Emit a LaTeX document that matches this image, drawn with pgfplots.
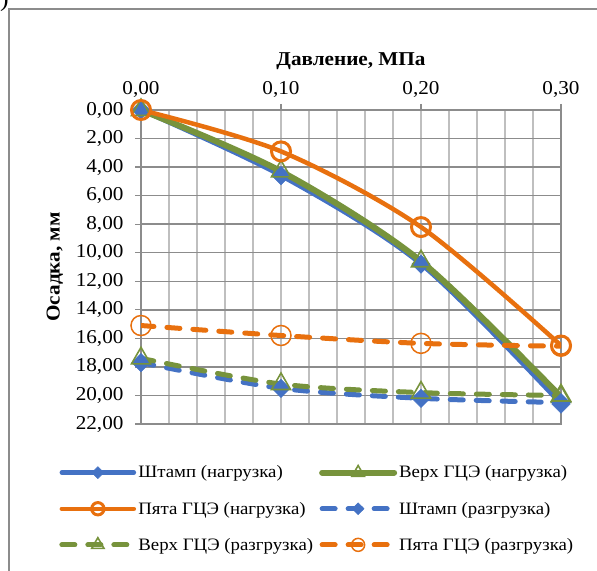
\documentclass[border=0pt]{standalone}
\usepackage{pgfplots}
\pgfplotsset{compat=1.18}
\usepackage{fontspec}
\setmainfont{Liberation Serif}[FakeStretch=1.08]
\definecolor{cblue}{HTML}{4472C4}
\definecolor{corange}{HTML}{E8700E}
\definecolor{cgreen}{HTML}{77933C}
\definecolor{gridd}{HTML}{8C8C8C}
\definecolor{gridl}{HTML}{BFBFBF}

\begin{document}
\begin{tikzpicture}[x=1bp,y=1bp]
\path[use as bounding box] (0,0) rectangle (597,571);
\draw[gridd, line width=1.3bp] (9,-5) -- (9,562) -- (605,562);
\node[anchor=south east, font=\fontsize{24}{28}\selectfont, inner sep=0] at (9,559) {б)};
\begin{axis}[
  at={(141bp,147bp)}, anchor=south west,
  scale only axis, width=420bp, height=314bp,
  xmin=0, xmax=0.3, ymin=0, ymax=22, y dir=reverse,
  xtick={0,0.1,0.2,0.3}, minor x tick num=4,
  ytick={0,2,...,22},
  xticklabel pos=upper, xtick pos=upper, ytick pos=left,
  tick align=outside, major tick length=6bp, minor tick length=0pt,
  tick style={gridd, line width=1.2bp},
  grid=both,
  major x grid style={gridl, line width=1.3bp},
  minor x grid style={gridl, line width=1.3bp},
  major y grid style={gridd, line width=1.4bp},
  axis line style={gridd, line width=1.3bp},
  x tick label style={yshift=3bp, /pgf/number format/.cd, fixed, fixed zerofill, precision=2, use comma},
  y tick label style={xshift=-8bp, /pgf/number format/.cd, fixed, fixed zerofill, precision=2, use comma},
  /pgf/number format/assume math mode=true,
  ticklabel style={font=\fontsize{19.7}{23}\selectfont},
  xlabel={\textbf{Давление, МПа}},
  ylabel={\textbf{Осадка, мм}},
  label style={font=\fontsize{19.7}{23}\selectfont},
  xlabel style={yshift=5bp},
  ylabel style={yshift=6bp},
  legend columns=2,
  legend cell align=left,
  legend style={draw=none, fill=none, at={(-0.202,-0.12)}, anchor=north west,
    font=\fontsize{17.5}{20}\selectfont, row sep=18.5bp,
    /tikz/every even column/.append style={column sep=4bp},
    nodes={inner sep=2bp}},
  legend image code/.code={\draw[mark repeat=2,mark phase=2,#1, every mark/.append style={scale=0.65}] plot coordinates {(0bp,0bp)(36bp,0bp)(72bp,0bp)};},
  every axis plot/.append style={smooth, tension=0.5, line cap=round},
]
\addplot[cblue, line width=4.5bp, mark=square*, mark size=6.5bp, mark options={solid, rotate=45, fill=cblue, draw=cblue, line width=0.5bp}]
  coordinates {(0,0) (0.1,4.6) (0.2,10.8) (0.3,20.6)};
\addlegendentry{Штамп (нагрузка)}
\addplot[cgreen, line width=6bp, mark=triangle, mark size=11bp, mark options={solid, draw=cgreen, fill=none, line width=1.6bp}]
  coordinates {(0,0) (0.1,4.3) (0.2,10.6) (0.3,20.1)};
\addlegendentry{Верх ГЦЭ (нагрузка)}
\addplot[corange, line width=4.5bp, mark=o, mark size=9.5bp, mark options={solid, draw=corange, fill=none, line width=3bp}]
  coordinates {(0,0) (0.1,2.9) (0.2,8.2) (0.3,16.5)};
\addlegendentry{Пята ГЦЭ (нагрузка)}
\addplot[cblue, line width=5bp, dash pattern=on 13bp off 13bp, mark=square*, mark size=6.5bp, mark options={solid, rotate=45, fill=cblue, draw=cblue, line width=0.5bp}]
  coordinates {(0,17.7) (0.1,19.5) (0.2,20.2) (0.3,20.5)};
\addlegendentry{Штамп (разгрузка)}
\addplot[cgreen, line width=5bp, dash pattern=on 13bp off 13bp, mark=triangle, mark size=11bp, mark options={solid, draw=cgreen, fill=none, line width=1.6bp}]
  coordinates {(0,17.4) (0.1,19.2) (0.2,19.8) (0.3,20.0)};
\addlegendentry{Верх ГЦЭ (разгрузка)}
\addplot[corange, line width=5bp, dash pattern=on 13bp off 13bp, mark=o, mark size=10bp, mark options={solid, draw=corange, fill=none, line width=1.5bp}]
  coordinates {(0,15.1) (0.1,15.8) (0.2,16.35) (0.3,16.55)};
\addlegendentry{Пята ГЦЭ (разгрузка)}
\end{axis}
\end{tikzpicture}
\end{document}
